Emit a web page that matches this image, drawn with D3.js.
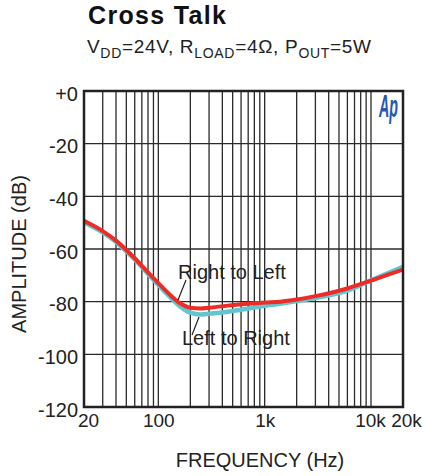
<!DOCTYPE html>
<html>
<head>
<meta charset="utf-8">
<script src="https://d3js.org/d3.v7.min.js"></script>
<style>
  html, body { margin: 0; padding: 0; background: #fff; }
  svg text { font-family: "Liberation Sans", Arial, sans-serif; fill: #222; }
</style>
<title>Cross Talk</title>
</head>
<body>
<div id="chart"></div>
<script>
// data
const freqs = [20, 30, 40, 60, 85, 120, 160, 200, 250, 300, 450, 700, 1000, 1400, 2000, 3000, 6000, 10000, 20000];
const rightToLeft = [-49.3, -53.2, -56.8, -63.5, -70, -76.2, -80.6, -82.3, -82.6, -82.3, -81.5, -80.8, -80.3, -80, -79.2, -77.9, -75, -72, -67.8];
const leftToRight = [-49.8, -53.7, -57.3, -64, -70.6, -77, -81.8, -84.2, -84.9, -84.6, -83.8, -82.6, -81.6, -80.8, -79.8, -78.6, -75.8, -71.9, -66.8];

const yTicks = [0, -20, -40, -60, -80, -100, -120];
const xTicks = [20, 100, 1000, 10000, 20000];
const xTickLabels = ["20", "100", "1k", "10k", "20k"];
const xGrid = [30, 40, 50, 60, 70, 80, 90, 100, 200, 300, 400, 500, 600, 700, 800, 900,
  1000, 2000, 3000, 4000, 5000, 6000, 7000, 8000, 9000, 10000];

const width = 423, height = 476;
const plot = { left: 84, right: 403, top: 91, bottom: 407 };

const svg = d3.select("#chart").append("svg")
  .attr("width", width).attr("height", height);

const x = d3.scaleLog().domain([20, 20000]).range([plot.left, plot.right]);
const y = d3.scaleLinear().domain([-120, 0]).range([plot.bottom, plot.top]);

// title + conditions
svg.append("text").attr("x", 88).attr("y", 24)
  .attr("textLength", 138).attr("lengthAdjust", "spacing")
  .style("font-size", "25px").style("font-weight", "bold").style("fill", "#111")
  .text("Cross Talk");

const sub = svg.append("text").attr("x", 87).attr("y", 53)
  .attr("textLength", 284).attr("lengthAdjust", "spacing")
  .style("font-size", "19px");
[["V", 0], ["DD", 1], ["=24V, R", 0], ["LOAD", 1], ["=4Ω, P", 0], ["OUT", 1], ["=5W", 0]]
  .forEach(([t, s], i, arr) => {
    const prevSub = i > 0 && arr[i - 1][1];
    sub.append("tspan")
      .attr("dy", s ? 5 : (prevSub ? -5 : 0))
      .style("font-size", s ? "14px" : "19px")
      .text(t);
  });

// grid
svg.append("g").selectAll("line").data(xGrid).join("line")
  .attr("x1", d => x(d)).attr("x2", d => x(d))
  .attr("y1", plot.top).attr("y2", plot.bottom)
  .attr("stroke", "#2a2a2a").attr("stroke-width", 1.3);

svg.append("g").selectAll("line").data(yTicks.slice(1, -1)).join("line")
  .attr("x1", plot.left).attr("x2", plot.right)
  .attr("y1", d => y(d)).attr("y2", d => y(d))
  .attr("stroke", "#2a2a2a").attr("stroke-width", 1.3);

// Ap logo
svg.append("text").attr("x", 379).attr("y", 117)
  .attr("textLength", 19).attr("lengthAdjust", "spacingAndGlyphs")
  .style("font-size", "32px").style("font-weight", "bold").style("font-style", "italic")
  .style("fill", "#2557b0").text("Ap");

// curves
const line = d3.line()
  .x(d => x(d[0])).y(d => y(d[1]))
  .curve(d3.curveMonotoneX);

svg.append("path").datum(freqs.map((f, i) => [f, leftToRight[i]]))
  .attr("d", line).attr("fill", "none")
  .attr("stroke", "#62c6cf").attr("stroke-width", 4.5);

svg.append("path").datum(freqs.map((f, i) => [f, rightToLeft[i]]))
  .attr("d", line).attr("fill", "none")
  .attr("stroke", "#ee2b25").attr("stroke-width", 4);

// frame
svg.append("rect")
  .attr("x", plot.left).attr("y", plot.top)
  .attr("width", plot.right - plot.left).attr("height", plot.bottom - plot.top)
  .attr("fill", "none").attr("stroke", "#222").attr("stroke-width", 2.5);

// annotations
svg.append("line").attr("x1", 186).attr("y1", 280).attr("x2", 178).attr("y2", 300)
  .attr("stroke", "#222").attr("stroke-width", 1.2);
svg.append("text").attr("x", 178).attr("y", 279).style("font-size", "20px").text("Right to Left");

svg.append("line").attr("x1", 199).attr("y1", 317).attr("x2", 192).attr("y2", 335)
  .attr("stroke", "#222").attr("stroke-width", 1.2);
svg.append("text").attr("x", 182).attr("y", 345).style("font-size", "20px").text("Left to Right");

// axes
const yAxis = svg.append("g")
  .attr("transform", `translate(${plot.left},0)`)
  .call(d3.axisLeft(y).tickValues(yTicks).tickSize(0).tickPadding(6)
    .tickFormat(d => d === 0 ? "+0" : String(d)));
yAxis.select(".domain").remove();
yAxis.selectAll("text").attr("dy", "0.45em")
  .style("font-size", "20px").style("font-family", "Liberation Sans, Arial, sans-serif").style("fill", "#222");

const xAxis = svg.append("g")
  .attr("transform", `translate(0,${plot.bottom})`)
  .call(d3.axisBottom(x).tickValues(xTicks).tickSize(0).tickPadding(7)
    .tickFormat((d, i) => xTickLabels[i]));
xAxis.select(".domain").remove();
xAxis.selectAll("text")
  .attr("dx", (d) => d === 20 ? 4 : d === 20000 ? 3 : d === 10000 ? -1 : 0)
  .style("font-size", "19px").style("font-family", "Liberation Sans, Arial, sans-serif").style("fill", "#222");

svg.append("text").attr("x", 260).attr("y", 467).attr("text-anchor", "middle")
  .style("font-size", "20px").text("FREQUENCY (Hz)");

svg.append("text")
  .attr("transform", "translate(26,254) rotate(-90)")
  .attr("text-anchor", "middle")
  .style("font-size", "20px").text("AMPLITUDE (dB)");
</script>
</body>
</html>
